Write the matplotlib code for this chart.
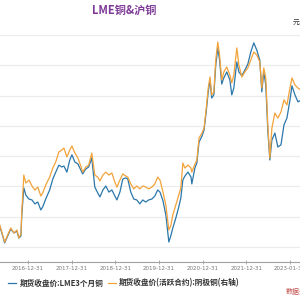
import matplotlib
matplotlib.use('Agg')
import matplotlib.pyplot as plt
import pandas as pd

# Data (LME 3M copper, left axis; SHFE active contract, right axis)
dates = ['2016-04-25', '2016-05-10', '2016-05-27', '2016-06-20', '2016-07-15', '2016-08-10',
         '2016-09-05', '2016-10-01', '2016-10-16', '2016-11-03', '2016-11-10', '2016-11-27',
         '2016-12-14', '2017-01-09', '2017-02-03', '2017-02-28', '2017-03-24', '2017-04-18',
         '2017-05-04', '2017-05-29', '2017-07-01', '2017-07-27', '2017-08-21', '2017-09-16',
         '2017-10-10', '2017-10-28', '2017-11-22', '2017-12-16', '2018-01-03', '2018-01-28',
         '2018-02-22', '2018-03-18', '2018-04-03', '2018-04-28', '2018-05-23', '2018-06-18',
         '2018-07-13', '2018-08-07', '2018-08-25', '2018-09-19', '2018-10-13', '2018-11-08',
         '2018-12-03', '2018-12-28', '2019-01-14', '2019-02-08', '2019-03-04', '2019-03-29',
         '2019-04-15', '2019-05-10', '2019-06-04', '2019-06-29', '2019-07-24', '2019-08-18',
         '2019-09-12', '2019-10-06', '2019-11-02', '2019-11-27', '2019-12-21', '2020-01-09',
         '2020-02-03', '2020-02-27', '2020-03-23', '2020-04-08', '2020-04-25', '2020-05-20',
         '2020-06-14', '2020-07-01', '2020-07-18', '2020-08-04', '2020-08-30', '2020-09-24',
         '2020-10-01', '2020-10-27', '2020-11-12', '2020-11-30', '2020-12-25', '2021-01-11',
         '2021-01-28', '2021-02-15', '2021-03-02', '2021-03-16', '2021-04-03', '2021-04-19',
         '2021-05-06', '2021-05-21', '2021-06-08', '2021-06-25', '2021-07-20', '2021-08-15',
         '2021-08-31', '2021-09-17', '2021-10-12', '2021-10-29', '2021-11-23', '2021-12-18',
         '2022-01-12', '2022-02-06', '2022-03-03', '2022-03-28', '2022-04-22', '2022-05-09',
         '2022-05-25', '2022-06-11', '2022-06-28', '2022-07-15', '2022-08-01', '2022-08-26',
         '2022-09-20', '2022-10-16', '2022-11-10', '2022-12-05', '2022-12-30', '2023-01-16',
         '2023-02-10', '2023-03-07', '2023-04-01']

lme = [4760, 4690, 4460, 4130, 4360, 4590, 4460, 4520, 4290, 4360, 5050, 5950,
       5710, 5580, 5550, 5420, 5480, 5220, 5320, 5580, 5880, 6240, 6470, 6700,
       6640, 6670, 6470, 6870, 7040, 6800, 6740, 6540, 6410, 6570, 6640, 6940,
       5980, 5780, 5650, 5880, 6010, 5810, 5880, 5680, 5550, 5810, 6240, 6280,
       6240, 5810, 5580, 5550, 5420, 5550, 5480, 5550, 5580, 5680, 5880, 5810,
       5520, 5050, 4160, 4360, 4620, 4950, 5320, 5610, 6210, 6340, 6470, 6310,
       6080, 6610, 6770, 7460, 7660, 7860, 8420, 9120, 9510, 8920, 9020, 10010,
       10570, 10170, 9380, 9580, 9780, 9510, 9020, 9250, 10110, 9780, 9650, 9840,
       10040, 10440, 10740, 10500, 10170, 9120, 9780, 9350, 7860, 6870, 7530, 7760,
       7300, 7370, 8030, 8260, 8850, 9320, 9020, 8790, 8850]

shfe = [38800, 38150, 36600, 34400, 35950, 37500, 36400, 37050, 35300, 36150, 41000, 49150,
        47400, 48050, 46750, 45850, 46500, 44550, 45200, 46950, 48700, 50700, 52050, 54250,
        54650, 55100, 53150, 54650, 55550, 54000, 52900, 51150, 49800, 50900, 51350, 54000,
        49150, 48700, 47850, 49150, 49800, 49150, 49600, 47600, 46500, 48050, 49400, 48950,
        48700, 47200, 46100, 46750, 46100, 46750, 46500, 46100, 46500, 47200, 48700, 48050,
        45400, 42550, 37050, 37950, 40350, 42550, 44750, 46300, 51800, 50700, 51350, 50700,
        49800, 51600, 52450, 57300, 58400, 59500, 63500, 68300, 70750, 66800, 67450, 74500,
        78450, 75600, 70100, 71850, 72950, 71200, 69450, 71200, 77150, 73400, 70750, 71850,
        72750, 74500, 76250, 75600, 74050, 68300, 72750, 70550, 60200, 52900, 59500, 62800,
        61700, 63050, 65700, 64600, 68300, 70550, 69000, 68300, 67900]

tick_dates = ['2015-12-31', '2016-12-31', '2017-12-31', '2018-12-31', '2019-12-31',
              '2020-12-31', '2021-12-31', '2022-12-31']
tick_labels = ['2015-12-31', '2016-12-31', '2017-12-31', '2018-12-31', '2019-12-31',
               '2020-12-31', '2021-12-31', '2023-01-31']

x = pd.to_datetime(dates)

fig = plt.figure(figsize=(3, 3), dpi=100)
ax1 = fig.add_axes([0.0, 38 / 300, 1.0, 227 / 300])

blue = '#2b77ab'
orange = '#f2a33a'

ax1.plot(x, lme, color=blue, linewidth=0.9, label='期货收盘价:LME3个月铜')
ax1.set_ylim(3500, 11000)
ax1.set_yticks(range(4000, 11001, 1000))
ax1.grid(axis='y', color='#ebebeb', linewidth=0.8)
ax1.set_axisbelow(True)

ax2 = ax1.twinx()
ax2.plot(x, shfe, color=orange, linewidth=0.9, label='期货收盘价(活跃合约):阴极铜(右轴)')
ax2.set_ylim(30000, 80000)

ax1.set_xticks(pd.to_datetime(tick_dates))
ax1.set_xticklabels(tick_labels)
ax1.set_xlim(pd.Timestamp('2016-05-12'), pd.Timestamp('2023-03-24'))

for a in (ax1, ax2):
    for s in ('top', 'left', 'right'):
        a.spines[s].set_visible(False)
    a.tick_params(axis='y', left=False, right=False, labelleft=False, labelright=False)
ax2.spines['bottom'].set_visible(False)
ax1.spines['bottom'].set_color('#a0a0a0')
ax1.spines['bottom'].set_linewidth(0.8)
ax1.tick_params(axis='x', direction='inout', length=3, width=0.6, color='#a0a0a0',
                labelsize=4, labelcolor='#777777', pad=1.5)

# legend
h1, l1 = ax1.get_legend_handles_labels()
h2, l2 = ax2.get_legend_handles_labels()
leg = fig.legend(h1 + h2, l1 + l2, loc='center', bbox_to_anchor=(124 / 300, 1 - 283 / 300),
                 ncol=2, frameon=False, handlelength=1.1, handletextpad=0.4,
                 columnspacing=0.6, borderaxespad=0,
                 prop={'family': ['Noto Sans CJK SC', 'DejaVu Sans'], 'size': 5.5, 'weight': 'bold'})
for t in leg.get_texts():
    t.set_color('#333333')

fig.text(124 / 300, 1 - 10 / 300, 'LME铜&沪铜', ha='center', va='center', color='#7f3a98',
         fontsize=8, fontweight='bold', family=['Noto Sans CJK SC', 'DejaVu Sans'])
fig.text(293 / 300, 1 - 23 / 300, '元', ha='left', va='center', color='#333333',
         fontsize=5, family=['Noto Sans CJK SC', 'DejaVu Sans'])
fig.text(286 / 300, 1 - 292 / 300, '数据来源：Wind', ha='left', va='center', color='#c0504d',
         fontsize=5, family=['Noto Sans CJK SC', 'DejaVu Sans'])

fig.savefig('out.png', dpi=100)
